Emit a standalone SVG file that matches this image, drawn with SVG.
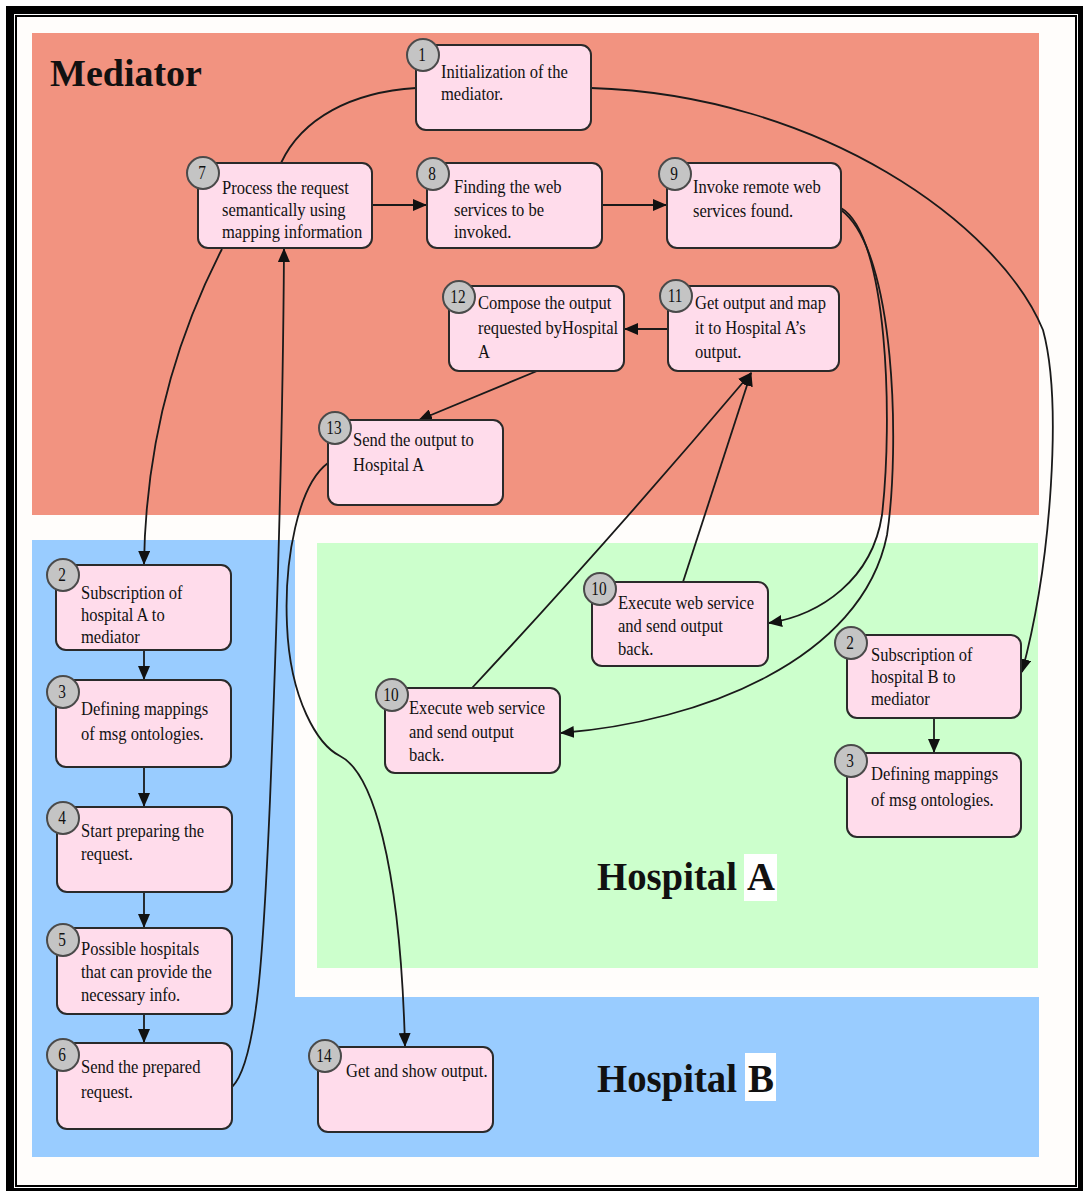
<svg xmlns="http://www.w3.org/2000/svg" width="1083" height="1191" viewBox="0 0 1083 1191">
<style>
.box{fill:#FFDCEB;stroke:#2a2a2a;stroke-width:2}
.num{fill:#C4C4C4;stroke:#4a4a4a;stroke-width:2}
.nt{font-family:"Liberation Serif",serif;font-size:18px;fill:#111}
.t{font-family:"Liberation Serif",serif;font-size:18px;fill:#111}
.title{font-family:"Liberation Serif",serif;font-weight:bold;fill:#111}
.e{fill:none;stroke:#1a1a1a;stroke-width:1.8}
</style>
<defs>
<marker id="ah" markerUnits="userSpaceOnUse" markerWidth="14" markerHeight="12" refX="13" refY="6" orient="auto">
<path d="M0,0 L14,6 L0,12 z" fill="#111"/>
</marker>
</defs>
<rect x="0" y="0" width="1083" height="1191" fill="#ffffff"/>
<rect x="6" y="6" width="1083" height="1191" fill="#000000"/>
<rect x="14" y="14" width="1064" height="1174" fill="#ffffff"/>
<rect x="16" y="16" width="1060" height="1170" fill="#fffdfb" stroke="#000" stroke-width="2"/>
<g id="regions">
<rect x="32" y="33" width="1007" height="482" fill="#F29380"/>
<path d="M32,540 H295 V997 H1039 V1157 H32 Z" fill="#99CCFF"/>
<rect x="317" y="543" width="721" height="425" fill="#CCFFCC"/>
<text class="title" x="50" y="86" font-size="37" textLength="152" lengthAdjust="spacingAndGlyphs">Mediator</text>
<text class="title" x="597" y="890" font-size="40" textLength="140" lengthAdjust="spacingAndGlyphs">Hospital</text>
<rect x="744" y="854" width="33" height="47" fill="#ffffff"/>
<text class="title" x="747" y="890" font-size="40" textLength="28" lengthAdjust="spacingAndGlyphs">A</text>
<text class="title" x="597" y="1092" font-size="40" textLength="140" lengthAdjust="spacingAndGlyphs">Hospital</text>
<rect x="745" y="1053" width="31" height="48" fill="#ffffff"/>
<text class="title" x="748" y="1092" font-size="40" textLength="26" lengthAdjust="spacingAndGlyphs">B</text>
</g>
<g id="connectors">
<path class="e" d="M416,88 C352,92 302,118 281,163"/>
<path class="e" d="M591,88 C820,95 1000,225 1043,330 C1062,400 1052,560 1022,672" marker-end="url(#ah)"/>
<path class="e" d="M222,249 C188,315 146,420 144,564" marker-end="url(#ah)"/>
<path class="e" d="M144,650 L144,679" marker-end="url(#ah)"/>
<path class="e" d="M144,767 L144,806" marker-end="url(#ah)"/>
<path class="e" d="M144,892 L144,927" marker-end="url(#ah)"/>
<path class="e" d="M144,1014 L144,1042" marker-end="url(#ah)"/>
<path class="e" d="M232,1087 C258,1062 264,940 270,800 C276,650 283,420 284,249" marker-end="url(#ah)"/>
<path class="e" d="M372,205 L426,205" marker-end="url(#ah)"/>
<path class="e" d="M602,205 L666,205" marker-end="url(#ah)"/>
<path class="e" d="M841,208 C888,235 893,420 882,515 C872,580 820,615 769,623" marker-end="url(#ah)"/>
<path class="e" d="M841,210 C896,250 900,450 887,535 C862,660 700,722 561,733" marker-end="url(#ah)"/>
<path class="e" d="M683,582 L751,373" marker-end="url(#ah)"/>
<path class="e" d="M472,688 Q610,540 751,373" marker-end="url(#ah)"/>
<path class="e" d="M668,329 L625,329" marker-end="url(#ah)"/>
<path class="e" d="M537,371 L419,420" marker-end="url(#ah)"/>
<path class="e" d="M328,463 C298,485 284,560 287,625 C290,700 318,745 340,756 C372,772 400,860 405,1046" marker-end="url(#ah)"/>
<path class="e" d="M934,718 L934,752" marker-end="url(#ah)"/>
</g>
<g id="n1"><rect class="box" x="416" y="45" width="175" height="85" rx="10"/><circle class="num" cx="423" cy="55" r="16"/><text class="nt" transform="translate(422,0) scale(0.85,1)" x="0" y="61" text-anchor="middle">1</text><text class="t" transform="translate(441,0) scale(0.92,1)"><tspan x="0" y="78">Initialization of the</tspan><tspan x="0" y="100">mediator.</tspan></text></g>
<g id="n7"><rect class="box" x="198" y="163" width="174" height="85" rx="10"/><circle class="num" cx="203" cy="173" r="16"/><text class="nt" transform="translate(202,0) scale(0.85,1)" x="0" y="179" text-anchor="middle">7</text><text class="t" transform="translate(222,0) scale(0.92,1)"><tspan x="0" y="194">Process the request</tspan><tspan x="0" y="216">semantically using</tspan><tspan x="0" y="238">mapping information</tspan></text></g>
<g id="n8"><rect class="box" x="427" y="163" width="175" height="85" rx="10"/><circle class="num" cx="433" cy="174" r="16"/><text class="nt" transform="translate(432,0) scale(0.85,1)" x="0" y="180" text-anchor="middle">8</text><text class="t" transform="translate(454,0) scale(0.92,1)"><tspan x="0" y="193">Finding the web</tspan><tspan x="0" y="216">services to be</tspan><tspan x="0" y="238">invoked.</tspan></text></g>
<g id="n9"><rect class="box" x="667" y="163" width="174" height="85" rx="10"/><circle class="num" cx="675" cy="174" r="16"/><text class="nt" transform="translate(674,0) scale(0.85,1)" x="0" y="180" text-anchor="middle">9</text><text class="t" transform="translate(693,0) scale(0.92,1)"><tspan x="0" y="193">Invoke remote web</tspan><tspan x="0" y="217">services found.</tspan></text></g>
<g id="n12"><rect class="box" x="449" y="286" width="175" height="85" rx="10"/><circle class="num" cx="459" cy="297" r="16"/><text class="nt" transform="translate(458,0) scale(0.85,1)" x="0" y="303" text-anchor="middle">12</text><text class="t" transform="translate(478,0) scale(0.92,1)"><tspan x="0" y="309">Compose the output</tspan><tspan x="0" y="334">requested byHospital</tspan><tspan x="0" y="358">A</tspan></text></g>
<g id="n11"><rect class="box" x="668" y="286" width="171" height="85" rx="10"/><circle class="num" cx="676" cy="296" r="16"/><text class="nt" transform="translate(675,0) scale(0.85,1)" x="0" y="302" text-anchor="middle">11</text><text class="t" transform="translate(695,0) scale(0.92,1)"><tspan x="0" y="309">Get output and map</tspan><tspan x="0" y="334">it to Hospital A’s</tspan><tspan x="0" y="358">output.</tspan></text></g>
<g id="n13"><rect class="box" x="328" y="420" width="175" height="85" rx="10"/><circle class="num" cx="335" cy="428" r="16"/><text class="nt" transform="translate(334,0) scale(0.85,1)" x="0" y="434" text-anchor="middle">13</text><text class="t" transform="translate(353,0) scale(0.92,1)"><tspan x="0" y="446">Send the output to</tspan><tspan x="0" y="471">Hospital A</tspan></text></g>
<g id="n2a"><rect class="box" x="56" y="565" width="175" height="85" rx="10"/><circle class="num" cx="63" cy="575" r="16"/><text class="nt" transform="translate(62,0) scale(0.85,1)" x="0" y="581" text-anchor="middle">2</text><text class="t" transform="translate(81,0) scale(0.92,1)"><tspan x="0" y="599">Subscription of</tspan><tspan x="0" y="621">hospital A to</tspan><tspan x="0" y="643">mediator</tspan></text></g>
<g id="n3a"><rect class="box" x="56" y="680" width="175" height="87" rx="10"/><circle class="num" cx="63" cy="692" r="16"/><text class="nt" transform="translate(62,0) scale(0.85,1)" x="0" y="698" text-anchor="middle">3</text><text class="t" transform="translate(81,0) scale(0.92,1)"><tspan x="0" y="715">Defining mappings</tspan><tspan x="0" y="740">of msg ontologies.</tspan></text></g>
<g id="n4"><rect class="box" x="57" y="807" width="175" height="85" rx="10"/><circle class="num" cx="63" cy="818" r="16"/><text class="nt" transform="translate(62,0) scale(0.85,1)" x="0" y="824" text-anchor="middle">4</text><text class="t" transform="translate(81,0) scale(0.92,1)"><tspan x="0" y="837">Start preparing the</tspan><tspan x="0" y="860">request.</tspan></text></g>
<g id="n5"><rect class="box" x="57" y="928" width="175" height="86" rx="10"/><circle class="num" cx="63" cy="940" r="16"/><text class="nt" transform="translate(62,0) scale(0.85,1)" x="0" y="946" text-anchor="middle">5</text><text class="t" transform="translate(81,0) scale(0.92,1)"><tspan x="0" y="955">Possible hospitals</tspan><tspan x="0" y="978">that can provide the</tspan><tspan x="0" y="1001">necessary info.</tspan></text></g>
<g id="n6"><rect class="box" x="57" y="1043" width="175" height="86" rx="10"/><circle class="num" cx="63" cy="1055" r="16"/><text class="nt" transform="translate(62,0) scale(0.85,1)" x="0" y="1061" text-anchor="middle">6</text><text class="t" transform="translate(81,0) scale(0.92,1)"><tspan x="0" y="1073">Send the prepared</tspan><tspan x="0" y="1098">request.</tspan></text></g>
<g id="n14"><rect class="box" x="318" y="1047" width="175" height="85" rx="10"/><circle class="num" cx="325" cy="1056" r="16"/><text class="nt" transform="translate(324,0) scale(0.85,1)" x="0" y="1062" text-anchor="middle">14</text><text class="t" transform="translate(346,0) scale(0.92,1)"><tspan x="0" y="1077">Get and show output.</tspan></text></g>
<g id="n10a"><rect class="box" x="592" y="582" width="176" height="84" rx="10"/><circle class="num" cx="600" cy="589" r="16"/><text class="nt" transform="translate(599,0) scale(0.85,1)" x="0" y="595" text-anchor="middle">10</text><text class="t" transform="translate(618,0) scale(0.92,1)"><tspan x="0" y="609">Execute web service</tspan><tspan x="0" y="632">and send output</tspan><tspan x="0" y="655">back.</tspan></text></g>
<g id="n10b"><rect class="box" x="385" y="688" width="175" height="85" rx="10"/><circle class="num" cx="392" cy="695" r="16"/><text class="nt" transform="translate(391,0) scale(0.85,1)" x="0" y="701" text-anchor="middle">10</text><text class="t" transform="translate(409,0) scale(0.92,1)"><tspan x="0" y="714">Execute web service</tspan><tspan x="0" y="738">and send output</tspan><tspan x="0" y="761">back.</tspan></text></g>
<g id="n2b"><rect class="box" x="847" y="635" width="174" height="83" rx="10"/><circle class="num" cx="851" cy="643" r="16"/><text class="nt" transform="translate(850,0) scale(0.85,1)" x="0" y="649" text-anchor="middle">2</text><text class="t" transform="translate(871,0) scale(0.92,1)"><tspan x="0" y="661">Subscription of</tspan><tspan x="0" y="683">hospital B to</tspan><tspan x="0" y="705">mediator</tspan></text></g>
<g id="n3b"><rect class="box" x="847" y="753" width="174" height="84" rx="10"/><circle class="num" cx="851" cy="761" r="16"/><text class="nt" transform="translate(850,0) scale(0.85,1)" x="0" y="767" text-anchor="middle">3</text><text class="t" transform="translate(871,0) scale(0.92,1)"><tspan x="0" y="780">Defining mappings</tspan><tspan x="0" y="806">of msg ontologies.</tspan></text></g>
</svg>
